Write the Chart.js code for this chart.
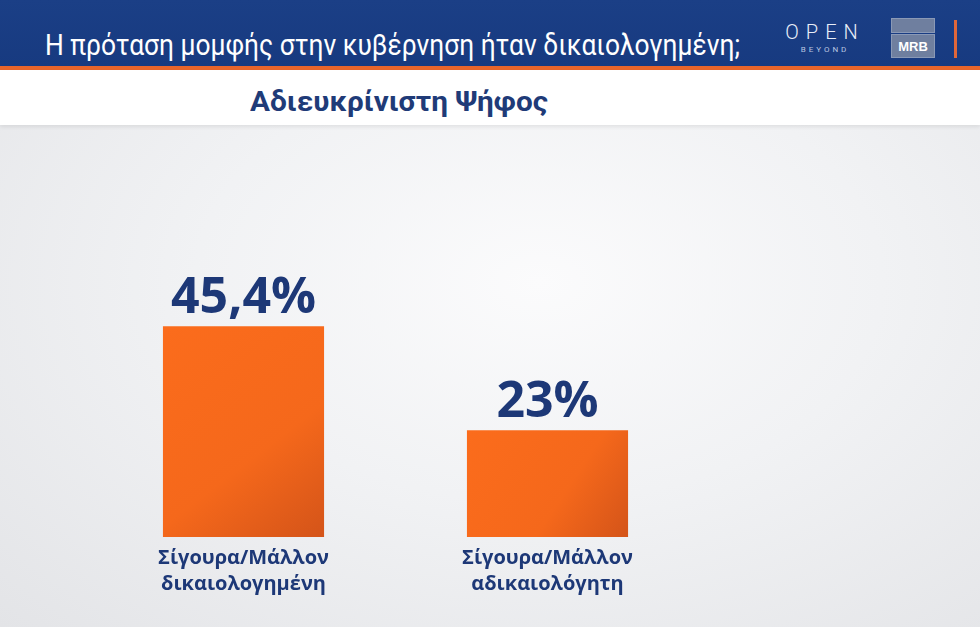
<!DOCTYPE html>
<html><head><meta charset="utf-8">
<script src="https://cdn.jsdelivr.net/npm/chart.js@4/dist/chart.umd.min.js"></script>
<style>
html,body{margin:0;padding:0;width:980px;height:627px;overflow:hidden;font-family:"Liberation Sans Narrow","Roboto",sans-serif;}
#bg{position:absolute;left:0;top:0;width:980px;height:627px;background:radial-gradient(ellipse at 55% 45%,#fbfbfc 0%,#f1f2f4 45%,#e3e4e7 100%);}
#header{position:absolute;left:0;top:0;width:980px;height:66px;background:linear-gradient(180deg,#1b3f86 0%,#173a80 100%);}
#stripe{position:absolute;left:0;top:66px;width:980px;height:4px;background:#e8652b;}
#band{position:absolute;left:0;top:70px;width:980px;height:55px;background:#ffffff;box-shadow:0 2px 4px rgba(0,0,0,0.08);}
.fit{position:absolute;white-space:nowrap;transform-origin:0 50%;}
#title{left:45px;top:28px;color:#ffffff;font-size:29px;line-height:34px;font-family:"Liberation Sans Narrow","Roboto",sans-serif;}
#sub{left:250px;top:85px;color:#1f3b78;font-size:27px;line-height:34px;font-weight:bold;font-family:"Liberation Sans Narrow","Roboto",sans-serif;}
#open{position:absolute;left:782px;top:21px;width:86px;text-align:center;color:#e8eef8;font-family:"Roboto",sans-serif;font-size:20px;letter-spacing:7px;font-weight:300;line-height:22px;}
#beyond{position:absolute;left:782px;top:45px;width:86px;text-align:center;color:#b9c6e0;font-family:"Roboto",sans-serif;font-size:8px;letter-spacing:3px;}
#mrb1{position:absolute;left:891px;top:18px;width:44px;height:15px;background:#6f7f9f;border:1px solid #8a99b6;box-sizing:border-box;}
#mrb2{position:absolute;left:891px;top:34px;width:44px;height:24px;background:#6f7f9f;border:1px solid #8a99b6;box-sizing:border-box;color:#fff;font:bold 13px "Liberation Sans",sans-serif;text-align:center;line-height:23px;}
#vline{position:absolute;left:954px;top:20px;width:3px;height:38px;background:#e0673a;}
#wrap{position:absolute;left:0;top:125px;width:980px;height:502px;}
</style></head>
<body>
<div id="bg"></div>
<div id="header"></div>
<div id="stripe"></div>
<div id="band"></div>
<div id="title" class="fit" data-w="695">Η πρόταση μομφής στην κυβέρνηση ήταν δικαιολογημένη;</div>
<div id="sub" class="fit" data-w="298">Αδιευκρίνιστη Ψήφος</div>
<div id="open">OPEN</div>
<div id="beyond">BEYOND</div>
<div id="mrb1"></div>
<div id="mrb2">MRB</div>
<div id="vline"></div>
<div id="wrap"><canvas id="c" width="980" height="502"></canvas></div>
<script>
const categories = [["Σίγουρα/Μάλλον","δικαιολογημένη"],["Σίγουρα/Μάλλον","αδικαιολόγητη"]];
const values = [45.4, 23];
const valueLabels = ["45,4%", "23%"];

document.querySelectorAll('.fit').forEach(el=>{
  const w = el.getBoundingClientRect().width;
  const target = parseFloat(el.dataset.w);
  el.style.transform = 'scaleX(' + (target / w) + ')';
});

const NAVY = '#1d3877';
const barShade = {
  id: 'barShade',
  beforeDatasetsDraw(chart) {
    const ctx = chart.ctx;
    chart.getDatasetMeta(0).data.forEach(bar => {
      const left = bar.x - bar.width / 2, right = bar.x + bar.width / 2;
      const g = ctx.createLinearGradient(left, bar.y, right, bar.base);
      g.addColorStop(0, '#fb6c1c');
      g.addColorStop(0.6, '#f5681b');
      g.addColorStop(1, '#d45419');
      bar.options.backgroundColor = g;
    });
  }
};
const valuePlugin = {
  id: 'valueLabels',
  afterDatasetsDraw(chart) {
    const ctx = chart.ctx;
    const meta = chart.getDatasetMeta(0);
    ctx.save();
    ctx.fillStyle = NAVY;
    ctx.textAlign = 'center';
    ctx.textBaseline = 'alphabetic';
    ctx.font = 'bold 50px "Open Sans", sans-serif';
    meta.data.forEach((bar, i) => {
      ctx.fillText(valueLabels[i], bar.x, bar.y - 13);
    });
    ctx.restore();
  }
};

new Chart(document.getElementById('c'), {
  type: 'bar',
  data: {
    labels: categories,
    datasets: [{
      data: values,
      backgroundColor: (context) => '#f36b1f',
      borderWidth: 0,
      barPercentage: 0.53,
      categoryPercentage: 1.0
    }]
  },
  options: {
    responsive: false,
    devicePixelRatio: 1,
    animation: false,
    layout: { padding: { left: 91.5, right: 280.5, top: 180, bottom: 22 } },
    plugins: { legend: { display: false }, tooltip: { enabled: false } },
    scales: {
      y: { display: false, min: 0, max: 50 },
      x: {
        grid: { display: false, drawTicks: false },
        border: { display: false },
        ticks: {
          color: NAVY,
          padding: 8,
          font: { family: '"Open Sans", sans-serif', size: 20, weight: 'bold', lineHeight: 1.3 }
        }
      }
    }
  },
  plugins: [barShade, valuePlugin]
});
</script>
</body></html>
